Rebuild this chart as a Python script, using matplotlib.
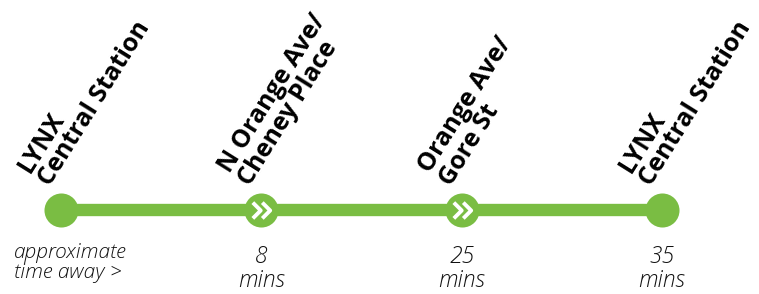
import matplotlib.pyplot as plt
from matplotlib.path import Path

# === DATA ===
stops = ["LYNX\nCentral Station", "N Orange Ave/\nCheney Place", "Orange Ave/\nGore St", "LYNX\nCentral Station"]
times = ["approximate\ntime away >", "8\nmins", "25\nmins", "35\nmins"]
transfer = [False, True, True, False]

GREEN = "#7ABD43"
positions = list(range(len(stops)))

# === FIGURE ===
fig = plt.figure(figsize=(7.59, 2.94), dpi=100)
ax = fig.add_axes([0, 0, 1, 1])
ax.set_xlim(-0.3045, 3.484)
ax.set_ylim(-84, 210)
ax.axis("off")

# route line + stop circles
ax.plot(positions, [0] * len(positions), color=GREEN, lw=8.9, solid_capstyle="butt", zorder=1)
ax.plot(positions, [0] * len(positions), "o", color=GREEN, ms=24.5, mew=0, zorder=2)

# double chevron marker for the middle stops
chev = Path([(-0.55, 0.5), (-0.05, 0), (-0.55, -0.5), (0.05, 0.5), (0.55, 0), (0.05, -0.5)],
            [Path.MOVETO, Path.LINETO, Path.LINETO, Path.MOVETO, Path.LINETO, Path.LINETO])
xs = [p for p, t in zip(positions, transfer) if t]
ax.plot(xs, [0] * len(xs), ls="none", marker=chev, ms=12.5, mfc="none", mec="white", mew=2.8, zorder=3)

# stop names
for p, name in zip(positions, stops):
    ax.annotate(name, (p, 20), xytext=(-6, 0), textcoords="offset pixels",
                rotation=58, rotation_mode="anchor", ha="left", va="bottom",
                fontsize=18, fontweight="bold", family="Open Sans",
                color="#000000", linespacing=0.95)

# time labels
for i, (p, t) in enumerate(zip(positions, times)):
    if i == 0:
        ax.annotate(t, (p, -33), xytext=(-47, 0), textcoords="offset pixels",
                    ha="left", va="top", fontsize=15, style="italic", fontweight="light",
                    family="Open Sans", color="#111111", linespacing=1.0)
    else:
        ax.annotate(t, (p, -35), ha="center", va="top", fontsize=16.5, style="italic",
                    fontweight="light", family="Open Sans", color="#111111", linespacing=1.0)

fig.savefig("out.png", dpi=100)
